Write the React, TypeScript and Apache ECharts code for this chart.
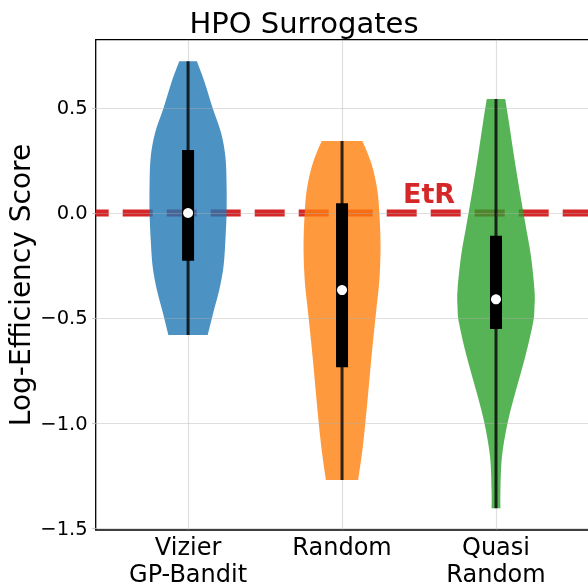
import React, { useEffect, useRef } from "react";
import * as echarts from "echarts";

const categories = ["Vizier\nGP-Bandit", "Random", "Quasi\nRandom"];
const positions = [1, 2, 3];
const yTicks = [-1.5, -1.0, -0.5, 0.0, 0.5];

// violin outlines: y levels and relative half-widths (fraction of max)
const vizierLevels = [0.722, 0.617, 0.499, 0.38, 0.268, 0.141, 0, -0.129, -0.256, -0.367, -0.478, -0.581];
const vizierWidths = [0.23, 0.44, 0.64, 0.86, 0.97, 1, 1, 0.97, 0.92, 0.81, 0.65, 0.51];
const randomLevels = [0.343, 0.237, 0.118, 0, -0.16, -0.319, -0.478, -0.637, -0.795, -0.954, -1.113, -1.271];
const randomWidths = [0.53, 0.76, 0.91, 0.97, 1, 0.97, 0.88, 0.79, 0.71, 0.63, 0.54, 0.42];
const quasiLevels = [0.543, 0.427, 0.268, 0.11, -0.049, -0.208, -0.367, -0.446, -0.525, -0.684, -0.843, -1.001, -1.16, -1.319, -1.406];
const quasiWidths = [0.24, 0.34, 0.47, 0.61, 0.76, 0.91, 1, 1, 0.96, 0.76, 0.52, 0.3, 0.155, 0.115, 0.115];

// box statistics
const maxs = [0.722, 0.343, 0.543];
const q3s = [0.3, 0.046, -0.108];
const medians = [0.0, -0.367, -0.411];
const q1s = [-0.227, -0.735, -0.552];
const mins = [-0.581, -1.271, -1.406];

const refValue = 0;
const refLabel = "EtR";
const refLabelPos = [2.565, 0.093];
const yTitle = "Log-Efficiency Score";
const chartTitle = "HPO Surrogates";

const levelsAll = [vizierLevels, randomLevels, quasiLevels];
const widthsAll = [vizierWidths, randomWidths, quasiWidths];
const fills = ["rgba(31,119,180,0.8)", "rgba(255,127,14,0.8)", "rgba(44,160,44,0.8)"];
const HALF = 0.25;
const FONT = "DejaVu Sans";
const GRID_COLOR = "rgba(176,176,176,0.4)";

function smoothSide(pts: number[][], first: boolean): string {
  let d = first ? `M${pts[0][0]},${pts[0][1]}` : `L${pts[0][0]},${pts[0][1]}`;
  const n = pts.length;
  for (let i = 0; i < n - 1; i++) {
    const p0 = pts[Math.max(i - 1, 0)];
    const p1 = pts[i];
    const p2 = pts[i + 1];
    const p3 = pts[Math.min(i + 2, n - 1)];
    const c1x = p1[0] + (p2[0] - p0[0]) / 6;
    const c1y = p1[1] + (p2[1] - p0[1]) / 6;
    const c2x = p2[0] - (p3[0] - p1[0]) / 6;
    const c2y = p2[1] - (p3[1] - p1[1]) / 6;
    d += ` C${c1x},${c1y} ${c2x},${c2y} ${p2[0]},${p2[1]}`;
  }
  return d;
}

export default function App() {
  const ref = useRef<HTMLDivElement>(null);
  useEffect(() => {
    if (!ref.current) return;
    const chart = echarts.init(ref.current, null, { renderer: "svg" });
    const fmtY = (v: number) => v.toFixed(1).replace("-", "\u2212");
    chart.setOption({
      animation: false,
      textStyle: { fontFamily: FONT },
      grid: {
        left: 95.7,
        top: 39.7,
        right: -5,
        bottom: 58,
        outerBoundsMode: "none",
        containLabel: false,
        show: true,
        borderColor: "#000",
        borderWidth: 1.3,
        backgroundColor: "transparent",
      },
      graphic: [
        {
          type: "text",
          x: 304,
          y: 23,
          style: {
            text: chartTitle,
            fontSize: 29,
            fontFamily: FONT,
            fill: "#000",
            textAlign: "center",
            textVerticalAlign: "middle",
          },
        },
        {
          type: "text",
          x: 20,
          y: 285,
          rotation: Math.PI / 2,
          style: {
            text: yTitle,
            fontSize: 28,
            fontFamily: FONT,
            fill: "#000",
            textAlign: "center",
            textVerticalAlign: "middle",
          },
        },
      ],
      xAxis: {
        type: "value",
        min: 0.4,
        max: 3.63,
        z: 3,
        axisLine: { show: false },
        axisTick: { show: true, customValues: positions, length: 3.5, lineStyle: { color: "#c8c8c8", width: 1.2 } },
        axisLabel: {
          customValues: positions,
          formatter: (v: number) => categories[Math.round(v) - 1] ?? "",
          fontSize: 24,
          lineHeight: 26.5,
          color: "#000",
          fontFamily: FONT,
          margin: 4,
        },
        splitLine: { show: true, lineStyle: { color: GRID_COLOR, width: 1.2 } },
      },
      yAxis: {
        type: "value",
        min: -1.5095,
        max: 0.8252,
        z: 3,
        axisLine: { show: false },
        axisTick: { show: true, customValues: yTicks, length: 3.5, lineStyle: { color: "#c8c8c8", width: 1.2 } },
        axisLabel: {
          customValues: yTicks,
          formatter: fmtY,
          fontSize: 19.5,
          color: "#000",
          fontFamily: FONT,
          margin: 8,
        },
        splitLine: { show: true, lineStyle: { color: GRID_COLOR, width: 1.2 } },
      },
      series: [
        {
          type: "line",
          z: 1,
          silent: true,
          symbol: "none",
          data: [
            [0.4, refValue],
            [3.63, refValue],
          ],
          lineStyle: { color: "#d62728", width: 7, type: [30, 14], dashOffset: 17.4, opacity: 1 },
        },
        {
          type: "custom",
          z: 2,
          silent: true,
          data: positions.map((p, i) => [p, i]),
          renderItem: (params: any, api: any) => {
            const i = api.value(1);
            const x = positions[i];
            const lv = levelsAll[i];
            const wd = widthsAll[i];
            const right = lv.map((y, k) => api.coord([x + wd[k] * HALF, y]));
            const left = lv.map((y, k) => api.coord([x - wd[k] * HALF, y])).reverse();
            const d = smoothSide(right, true) + " " + smoothSide(left, false) + " Z";
            return {
              type: "path",
              shape: { pathData: d },
              style: { fill: fills[i] },
            };
          },
        },
        {
          type: "custom",
          z: 4,
          silent: true,
          data: positions.map((p, i) => [p, i]),
          renderItem: (params: any, api: any) => {
            const i = api.value(1);
            const x = positions[i];
            const top = api.coord([x, maxs[i]]);
            const bot = api.coord([x, mins[i]]);
            const b3 = api.coord([x, q3s[i]]);
            const b1 = api.coord([x, q1s[i]]);
            const md = api.coord([x, medians[i]]);
            return {
              type: "group",
              children: [
                {
                  type: "line",
                  shape: { x1: top[0], y1: top[1], x2: bot[0], y2: bot[1] },
                  style: { stroke: "rgba(0,0,0,0.8)", lineWidth: 3 },
                },
                {
                  type: "rect",
                  shape: { x: b3[0] - 6, y: b3[1], width: 12, height: b1[1] - b3[1] },
                  style: { fill: "#000" },
                },
                {
                  type: "circle",
                  shape: { cx: md[0], cy: md[1], r: 5 },
                  style: { fill: "#fff" },
                },
              ],
            };
          },
        },
        {
          type: "custom",
          z: 5,
          silent: true,
          data: [refLabelPos],
          renderItem: (params: any, api: any) => {
            const p = api.coord([api.value(0), api.value(1)]);
            return {
              type: "text",
              x: p[0],
              y: p[1],
              style: {
                text: refLabel,
                fill: "#d62728",
                fontWeight: "bold",
                fontSize: 27,
                fontFamily: FONT,
                textAlign: "center",
                textVerticalAlign: "middle",
              },
            };
          },
        },
      ],
    });
    return () => chart.dispose();
  }, []);
  return <div ref={ref} style={{ position: "fixed", left: 0, top: 0, width: 588, height: 588 }} />;
}
